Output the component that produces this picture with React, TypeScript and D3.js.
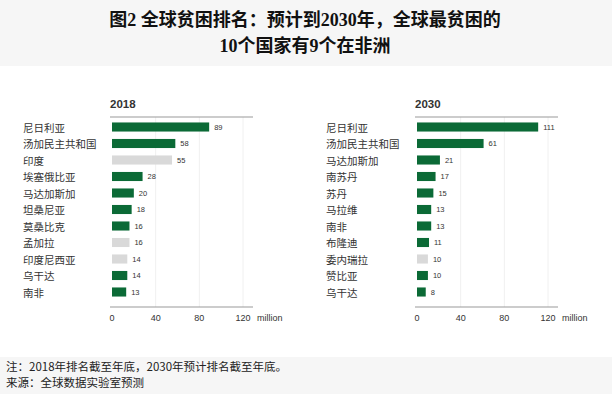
import React, { useEffect } from 'react'
import * as d3 from 'd3'

// 2018 ranking
const countries2018 = ['尼日利亚', '汤加民主共和国', '印度', '埃塞俄比亚', '马达加斯加', '坦桑尼亚', '莫桑比克', '孟加拉', '印度尼西亚', '乌干达', '南非']
const values2018 = [89, 58, 55, 28, 20, 18, 16, 16, 14, 14, 13]
const africa2018 = [true, true, false, true, true, true, true, false, false, true, true]

// 2030 projection
const countries2030 = ['尼日利亚', '汤加民主共和国', '马达加斯加', '南苏丹', '苏丹', '马拉维', '南非', '布隆迪', '委内瑞拉', '赞比亚', '乌干达']
const values2030 = [111, 61, 21, 17, 15, 13, 13, 11, 10, 10, 8]
const africa2030 = [true, true, true, true, true, true, true, true, false, true, true]

const ticks = [0, 40, 80, 120]

const W = 612
const H = 394
const GREEN = '#0b6a36'
const GRAY = '#d9d9d9'
const SANS = 'Helvetica, Arial, "Liberation Sans", sans-serif'
const CJK = '"Noto Sans CJK SC", sans-serif'
const SERIF = '"Liberation Serif", "DejaVu Serif", "Noto Sans CJK SC", serif'

type PanelProps = {
  year: string
  names: string[]
  values: number[]
  africa: boolean[]
  labelX: number
  x0: number
}

const Panel = ({ year, names, values, africa, labelX, x0 }: PanelProps) => {
  const xScale = d3.scaleLinear().domain([0, 120]).range([x0, x0 + 131])
  const yScale = d3
    .scaleBand<number>()
    .domain(d3.range(names.length))
    .range([118.75, 118.75 + 16.5 * names.length])
    .paddingInner(0.45)
    .paddingOuter(0.225)

  const top = 117
  const bottom = 307
  const lineL = x0 - 2
  const lineR = xScale(120) + 10

  return (
    <g>
      <text x={x0 - 2} y={108} fontFamily={SANS} fontSize={11.5} fontWeight="bold" fill="#333">
        {year}
      </text>
      {ticks.slice(1).map(t => (
        <line key={t} x1={xScale(t)} x2={xScale(t)} y1={top} y2={bottom} stroke="#f0f0f0" strokeWidth={1} />
      ))}
      <line x1={lineL} x2={lineR} y1={top} y2={top} stroke="#999" strokeWidth={1} />
      <line x1={lineL} x2={lineR} y1={bottom} y2={bottom} stroke="#999" strokeWidth={1} />
      {names.map((n, i) => (
        <g key={n + i}>
          <text
            x={labelX}
            y={yScale(i)! + yScale.bandwidth() / 2}
            dominantBaseline="central"
            fontFamily={CJK}
            fontSize={10.5}
            fill="#333"
          >
            {n}
          </text>
          <rect
            x={xScale(0)}
            y={yScale(i)}
            width={xScale(values[i]) - xScale(0)}
            height={yScale.bandwidth()}
            fill={africa[i] ? GREEN : GRAY}
          />
          <text
            x={xScale(values[i]) + 5}
            y={yScale(i)! + yScale.bandwidth() / 2}
            dominantBaseline="central"
            fontFamily={SANS}
            fontSize={7.5}
            fill="#333"
          >
            {values[i]}
          </text>
        </g>
      ))}
      {ticks.map(t => (
        <text key={t} x={xScale(t)} y={321} textAnchor="middle" fontFamily={SANS} fontSize={9} fill="#333">
          {t}
        </text>
      ))}
      <text x={xScale(120) + 14} y={321} fontFamily={SANS} fontSize={9} fill="#333">
        million
      </text>
    </g>
  )
}

const App = () => {
  useEffect(() => {
    document.body.style.margin = '0'
  }, [])

  return (
    <svg width={W} height={H} style={{ display: 'block', position: 'absolute', left: 0, top: 0 }}>
      <rect x={0} y={0} width={W} height={H} fill="#fff" />
      <rect x={0} y={0} width={W} height={66} fill="#f6f6f6" />
      <text x={305} y={26} textAnchor="middle" fontFamily={SERIF} fontWeight="bold" fontSize={18} fill="#111">
        图2 全球贫困排名：预计到2030年，全球最贫困的
      </text>
      <text x={305} y={52} textAnchor="middle" fontFamily={SERIF} fontWeight="bold" fontSize={18} fill="#111">
        10个国家有9个在非洲
      </text>

      <Panel year="2018" names={countries2018} values={values2018} africa={africa2018} labelX={23} x0={112} />
      <Panel year="2030" names={countries2030} values={values2030} africa={africa2030} labelX={326} x0={417} />

      <rect x={0} y={357} width={W} height={H - 357} fill="#f6f6f6" />
      <text x={6} y={371} fontFamily={CJK} fontSize={11.5} fill="#222">
        注：2018年排名截至年底，2030年预计排名截至年底。
      </text>
      <text x={6} y={387} fontFamily={CJK} fontSize={11.5} fill="#222">
        来源：全球数据实验室预测
      </text>
    </svg>
  )
}

export default App
